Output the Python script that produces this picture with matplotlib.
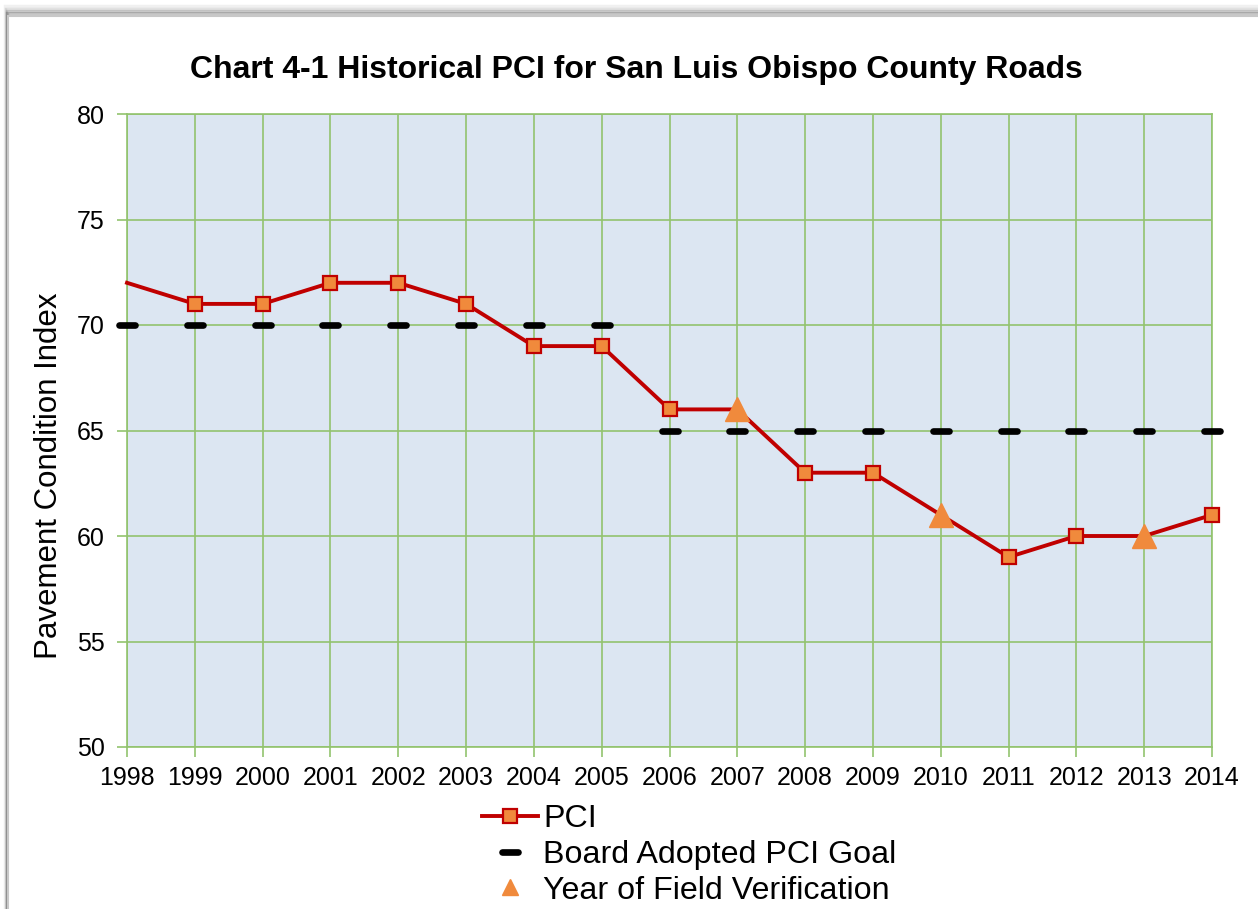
import matplotlib
matplotlib.use('Agg')
from matplotlib import pyplot as plt
from matplotlib.lines import Line2D
from matplotlib.markers import MarkerStyle
from matplotlib.patches import Rectangle

plt.rcParams['font.family'] = ['Liberation Sans', 'DejaVu Sans']

# data
years = list(range(1998, 2015))
pci = [72, 71, 71, 72, 72, 71, 69, 69, 66, 66, 63, 63, 61, 59, 60, 60, 61]
goal = [70, 70, 70, 70, 70, 70, 70, 70, 65, 65, 65, 65, 65, 65, 65, 65, 65]
verify_years = [2007, 2010, 2013]
verify_pci = [66, 61, 60]

GREEN = '#92c36e'
RED = '#c00000'
ORANGE = '#f08a3c'

fig = plt.figure(figsize=(12.58, 9.09), dpi=100)
ax = fig.add_axes([127/1258, 1 - 747/909, 1085/1258, 633/909])
ax.set_facecolor('#dce6f2')

# frame around chart, with a soft shadow on top
for i, a in enumerate([0.06, 0.1, 0.15, 0.22]):
    fig.add_artist(Rectangle((0.004 + i * 0.0006, -0.1), 1.2, (1 - (6 + i * 2.5) / 909) + 0.1,
                             transform=fig.transFigure, fill=False, zorder=-10,
                             edgecolor='black', alpha=a, lw=2.5))
fig.add_artist(Rectangle((8/1258, -0.1), 1.2, (1 - 16/909) + 0.1, transform=fig.transFigure,
                         facecolor='white', edgecolor='#c8c8c8', lw=1.5, zorder=-9))

# goal dashes
dash = MarkerStyle('_', capstyle='round')
ax.plot(years, goal, linestyle='none', marker=dash, markersize=12,
        markeredgewidth=4.8, color='black', clip_on=False, zorder=3)

# PCI line; markers skipped where a field-verification triangle sits
mark_idx = [i for i, y in enumerate(years) if y != 1998 and y not in verify_years]
ax.plot(years, pci, color=RED, lw=2.8, marker='s', markersize=10,
        markerfacecolor=ORANGE, markeredgecolor=RED, markeredgewidth=1.6,
        markevery=mark_idx, clip_on=False, zorder=4)

ax.plot(verify_years, verify_pci, linestyle='none', marker='^', markersize=17,
        color=ORANGE, zorder=5)

ax.set_xlim(1998, 2014)
ax.set_ylim(50, 80)
ax.set_xticks(years)
ax.set_yticks(range(50, 81, 5))
ax.tick_params(axis='both', colors=GREEN, labelcolor='black', labelsize=18, length=7, width=1.2)
ax.tick_params(axis='x', pad=7)
ax.tick_params(axis='y', pad=9)
ax.grid(True, color=GREEN, lw=1.2)
ax.set_axisbelow(True)
for s in ax.spines.values():
    s.set_color(GREEN)
    s.set_linewidth(1.2)

ax.set_ylabel('Pavement Condition Index', fontsize=22.5)
ax.yaxis.set_label_coords(-0.058, 0.428)

fig.text(636/1258, 1 - 70/909, 'Chart 4-1 Historical PCI for San Luis Obispo County Roads',
         ha='center', va='center', fontsize=23, fontweight='bold')

handles = [
    Line2D([], [], color=RED, lw=2.8, marker='s', markersize=10,
           markerfacecolor=ORANGE, markeredgecolor=RED, markeredgewidth=1.6),
    Line2D([], [], linestyle='none', marker=dash, markersize=11,
           markeredgewidth=4.8, color='black'),
    Line2D([], [], linestyle='none', marker='^', markersize=11, color=ORANGE),
]
labels = ['PCI', 'Board Adopted PCI Goal', 'Year of Field Verification']
fig.legend(handles, labels, loc='upper left', bbox_to_anchor=(482/1258, 1 - 804/909),
           frameon=False, fontsize=23.2, handlelength=1.75, handletextpad=0.15,
           labelspacing=0.18, borderpad=0, borderaxespad=0, numpoints=1)

fig.savefig('out.png', dpi=100, facecolor='white')
